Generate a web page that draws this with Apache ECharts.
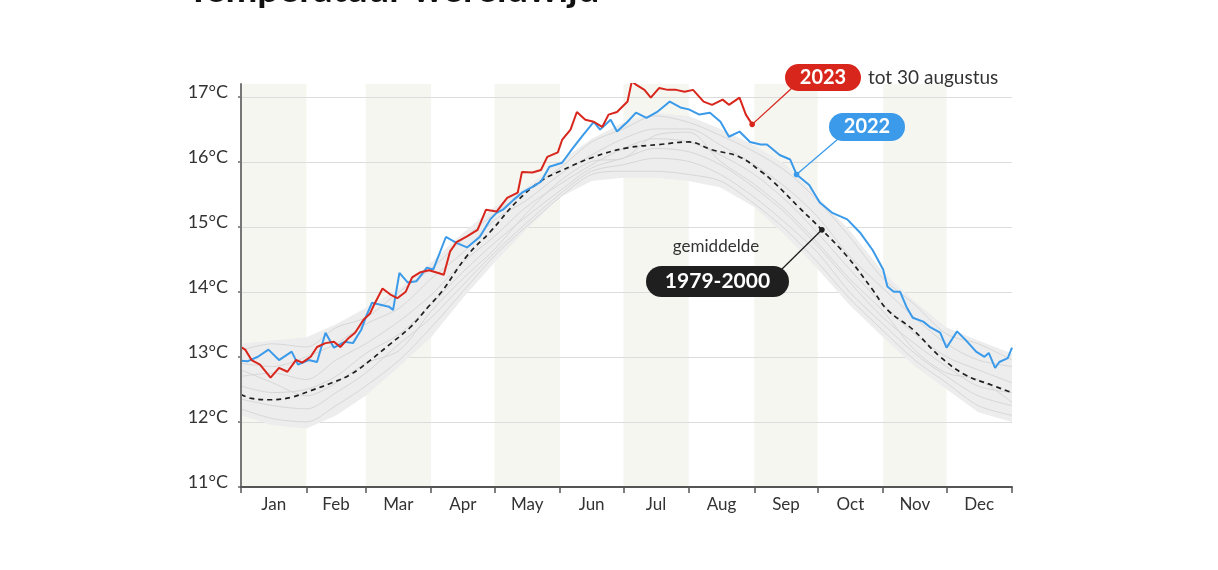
<!DOCTYPE html>
<html>
<head>
<meta charset="utf-8">
<script src="https://cdn.jsdelivr.net/npm/echarts@6/dist/echarts.min.js"></script>
<style>
  html, body { margin: 0; padding: 0; background: #fff; }
  #chart { width: 1218px; height: 570px; }
</style>
</head>
<body>
<div id="chart"></div>
<script>
// maanden (dag van het jaar)
const monthNames = ['Jan', 'Feb', 'Mar', 'Apr', 'May', 'Jun', 'Jul', 'Aug', 'Sep', 'Oct', 'Nov', 'Dec'];
const monthStarts = [0, 31, 59, 90, 120, 151, 181, 212, 243, 273, 304, 334, 365];
const monthMids = [15.5, 45, 74.5, 105, 135.5, 166, 196.5, 227.5, 258, 288.5, 319, 349.5];
const yTicks = [11, 12, 13, 14, 15, 16, 17];

// 2023 tot 30 augustus
const data2023 = [
  [0, 13.15], [2, 13.11], [5, 12.95], [9, 12.88], [14, 12.68], [18, 12.83], [22, 12.77],
  [26, 12.95], [29, 12.91], [33, 13.00], [36, 13.15], [40, 13.21], [44, 13.23], [47, 13.15],
  [51, 13.29], [54, 13.37], [58, 13.57], [61, 13.66], [63, 13.80], [67, 14.05], [71, 13.95],
  [74, 13.90], [78, 14.00], [81, 14.22], [85, 14.30], [89, 14.33], [93, 14.29], [96, 14.26],
  [99, 14.62], [102, 14.76], [107, 14.85], [112, 14.95], [116, 15.26], [121, 15.23],
  [126, 15.44], [131, 15.52], [133, 15.84], [138, 15.83], [142, 15.87], [145, 16.07],
  [150, 16.14], [152, 16.33], [156, 16.49], [159, 16.76], [163, 16.64], [167, 16.61],
  [171, 16.53], [174, 16.72], [178, 16.76], [183, 16.92], [185, 17.23], [187, 17.18],
  [191, 17.10], [194, 16.98], [198, 17.13], [202, 17.10], [206, 17.10], [210, 17.07],
  [214, 17.10], [219, 16.92], [223, 16.87], [228, 16.95], [231, 16.87], [236, 16.98],
  [239, 16.72], [242, 16.57]
];

// 2022
const data2022 = [
  [0, 12.94], [3, 12.93], [8, 13.00], [13, 13.11], [18, 12.95], [24, 13.08], [27, 12.88],
  [32, 12.95], [36, 12.92], [40, 13.37], [44, 13.14], [49, 13.23], [53, 13.21], [57, 13.42],
  [59, 13.60], [62, 13.83], [66, 13.80], [70, 13.77], [72, 13.72], [75, 14.29], [79, 14.14],
  [83, 14.16], [88, 14.37], [91, 14.34], [97, 14.84], [102, 14.75], [107, 14.68], [113, 14.84],
  [118, 15.11], [121, 15.21], [124, 15.26], [129, 15.41], [133, 15.52], [138, 15.61],
  [142, 15.69], [146, 15.92], [152, 15.98], [157, 16.20], [162, 16.41], [167, 16.61],
  [170, 16.49], [175, 16.64], [178, 16.46], [183, 16.61], [187, 16.75], [192, 16.67],
  [197, 16.76], [203, 16.92], [208, 16.83], [212, 16.80], [217, 16.72], [222, 16.75],
  [227, 16.61], [231, 16.38], [236, 16.46], [241, 16.30], [246, 16.26], [249, 16.26],
  [255, 16.10], [260, 16.03], [263, 15.80], [269, 15.64], [274, 15.37], [280, 15.21],
  [287, 15.11], [293, 14.91], [299, 14.64], [304, 14.34], [306, 14.08], [309, 14.00],
  [312, 14.00], [315, 13.77], [318, 13.60], [323, 13.54], [326, 13.46], [331, 13.37],
  [334, 13.14], [339, 13.39], [343, 13.26], [348, 13.08], [352, 13.00], [354, 13.06],
  [357, 12.83], [359, 12.92], [363, 12.98], [365, 13.14]
];

// gemiddelde 1979-2000
const dataAvg = [
  [0, 12.42], [5, 12.36], [14, 12.34], [24, 12.38], [33, 12.48], [43, 12.60], [52, 12.73],
  [61, 12.94], [70, 13.18], [80, 13.45], [89, 13.78], [95, 14.00], [107, 14.55], [118, 14.92],
  [131, 15.40], [142, 15.70], [151, 15.85], [167, 16.07], [183, 16.21],
  [198, 16.26], [212, 16.30], [223, 16.18], [236, 16.07], [246, 15.85], [252, 15.69],
  [264, 15.30], [275, 14.95], [287, 14.54], [299, 14.03], [306, 13.72], [318, 13.42],
  [331, 13.00], [343, 12.72], [355, 12.57], [365, 12.45]
];

// grijze jaren (1979-2021), een selectie
const grayDays = [0, 15, 31, 45, 59, 75, 90, 105, 120, 135, 151, 166, 181, 196, 212, 227, 243, 258, 273, 288, 304, 319, 334, 349, 365];
const grayTop = [13.2, 13.25, 13.3, 13.5, 13.75, 14.05, 14.45, 14.9, 15.3, 15.6, 16.0, 16.35, 16.6, 16.75, 16.7, 16.5, 16.25, 15.95, 15.45, 14.95, 14.3, 13.85, 13.45, 13.25, 13.05];
const grayBottom = [12.1, 11.95, 11.9, 12.1, 12.4, 12.85, 13.3, 13.9, 14.45, 14.95, 15.45, 15.7, 15.75, 15.75, 15.7, 15.6, 15.3, 14.85, 14.35, 13.8, 13.3, 12.85, 12.5, 12.15, 12.0];
const grayLines = [
  [13.10, 13.20, 13.15, 13.45, 13.60, 14.00, 14.35, 14.80, 15.20, 15.55, 15.90, 16.30, 16.50, 16.70, 16.60, 16.40, 16.15, 15.85, 15.40, 14.85, 14.20, 13.80, 13.35, 13.20, 12.95],
  [12.90, 12.85, 13.00, 13.20, 13.50, 13.75, 14.20, 14.60, 15.10, 15.40, 15.80, 16.10, 16.35, 16.50, 16.50, 16.25, 15.95, 15.60, 15.15, 14.55, 14.05, 13.60, 13.20, 12.95, 12.85],
  [12.70, 12.75, 12.65, 12.95, 13.20, 13.55, 13.95, 14.45, 14.85, 15.30, 15.65, 15.95, 16.20, 16.35, 16.30, 16.10, 15.80, 15.40, 14.90, 14.35, 13.80, 13.35, 13.00, 12.80, 12.60],
  [12.55, 12.45, 12.50, 12.70, 13.05, 13.35, 13.80, 14.30, 14.75, 15.15, 15.55, 15.90, 16.05, 16.20, 16.15, 15.95, 15.60, 15.20, 14.70, 14.15, 13.60, 13.20, 12.85, 12.55, 12.45],
  [12.35, 12.25, 12.20, 12.45, 12.75, 13.20, 13.60, 14.10, 14.60, 15.05, 15.50, 15.85, 15.95, 16.05, 16.00, 15.80, 15.45, 15.05, 14.60, 14.00, 13.50, 13.05, 12.70, 12.40, 12.25],
  [12.20, 12.05, 12.00, 12.25, 12.55, 12.95, 13.45, 14.00, 14.55, 15.00, 15.45, 15.80, 15.85, 15.85, 15.80, 15.70, 15.35, 14.95, 14.45, 13.90, 13.40, 12.95, 12.60, 12.25, 12.10],
  [12.80, 12.60, 12.40, 12.60, 12.90, 13.10, 13.70, 14.20, 14.65, 15.20, 15.70, 16.00, 16.05, 16.40, 16.45, 16.00, 15.65, 15.25, 14.75, 14.20, 13.70, 13.10, 12.75, 12.65, 12.30]
];

const FONT = 'Lato';
const RED = '#d8261c';
const BLUE = '#3b9ae9';
const DARK = '#1f1f1f';
const Y_MIN = 11;
const Y_TOP = 17.19;

const chart = echarts.init(document.getElementById('chart'));

function zip(xs, ys) {
  return xs.map((x, i) => [x, ys[i]]);
}

// gestreepte maanden: jan, mrt, mei, jul, sep, nov
const bandRanges = [];
for (let m = 0; m < 12; m += 2) {
  bandRanges.push([monthStarts[m], monthStarts[m + 1]]);
}

const series = [
  {
    type: 'custom',
    xAxisIndex: 0,
    yAxisIndex: 0,
    data: bandRanges,
    silent: true,
    z: 0,
    renderItem: (params, api) => {
      const p0 = api.coord([api.value(0), Y_TOP]);
      const p1 = api.coord([api.value(1), Y_MIN]);
      return {
        type: 'rect',
        shape: { x: p0[0], y: p0[1], width: p1[0] - p0[0], height: p1[1] - p0[1] },
        style: { fill: '#f6f6f1' }
      };
    }
  },
  {
    // omhullende van de grijze jaren
    type: 'custom',
    xAxisIndex: 0,
    yAxisIndex: 0,
    data: grayDays.map((d, i) => [d, grayBottom[i], grayTop[i]]),
    silent: true,
    z: 2,
    renderItem: (params, api) => {
      if (params.dataIndex !== 0) return null;
      const pts = [];
      grayDays.forEach((d, i) => pts.push(api.coord([d, grayTop[i]])));
      for (let i = grayDays.length - 1; i >= 0; i--) {
        pts.push(api.coord([grayDays[i], grayBottom[i]]));
      }
      return {
        type: 'polygon',
        shape: { points: pts },
        style: { fill: '#ededed' }
      };
    }
  }
];

grayLines.forEach(vals => {
  series.push({
    type: 'line',
    xAxisIndex: 0,
    yAxisIndex: 0,
    data: zip(grayDays, vals),
    smooth: 0.3,
    showSymbol: false,
    lineStyle: { color: '#d7d7d7', width: 1 },
    silent: true,
    z: 3
  });
});

series.push({
  type: 'line',
  xAxisIndex: 0,
  yAxisIndex: 0,
  data: dataAvg,
  smooth: 0.4,
  showSymbol: false,
  lineStyle: { color: DARK, width: 1.7, type: [5, 4] },
  z: 4
});
series.push({
  type: 'line',
  xAxisIndex: 0,
  yAxisIndex: 0,
  data: data2022,
  showSymbol: false,
  lineStyle: { color: BLUE, width: 2 },
  z: 5
});
series.push({
  type: 'line',
  xAxisIndex: 0,
  yAxisIndex: 0,
  data: data2023,
  showSymbol: false,
  lineStyle: { color: RED, width: 2 },
  z: 6
});

chart.setOption({
  animation: false,
  textStyle: { fontFamily: FONT },
  grid: [
    { left: 241, right: 206, top: 84, bottom: 83 },
    { left: 241, right: 206, top: 97, bottom: 83 }
  ],
  xAxis: [
    {
      type: 'value',
      gridIndex: 0,
      min: 0,
      max: 365,
      splitLine: { show: false },
      axisLine: { show: true, lineStyle: { color: '#555', width: 2 } },
      axisTick: {
        show: true,
        customValues: monthStarts,
        length: 6,
        lineStyle: { color: '#555', width: 1.5 }
      },
      axisLabel: {
        customValues: monthMids,
        margin: 9,
        color: '#333',
        fontSize: 17,
        fontFamily: FONT,
        formatter: v => monthNames[monthMids.indexOf(v)] || ''
      },
      z: 7
    },
    {
      type: 'value',
      gridIndex: 1,
      min: 0,
      max: 365,
      show: false
    }
  ],
  yAxis: [
    {
      type: 'value',
      gridIndex: 0,
      min: Y_MIN,
      max: Y_TOP,
      axisLine: { show: true, lineStyle: { color: '#777', width: 2 } },
      axisTick: { show: false },
      axisLabel: { show: false },
      splitLine: { show: false },
      z: 7
    },
    {
      type: 'value',
      gridIndex: 1,
      min: 11,
      max: 17,
      interval: 1,
      axisLine: { show: false },
      axisTick: { show: true, length: 3, lineStyle: { color: '#666', width: 1.5 } },
      axisLabel: {
        margin: 13,
        color: '#333',
        fontSize: 18,
        fontFamily: FONT,
        verticalAlign: 'bottom',
        lineHeight: 10,
        formatter: v => (yTicks.indexOf(v) >= 0 ? v + '°C' : '')
      },
      splitLine: { show: true, lineStyle: { color: '#dcdcdc', width: 1 } },
      z: 1
    }
  ],
  series: series
});

// annotaties, verbonden met punten op de lijnen
function pt(p) {
  return chart.convertToPixel({ xAxisIndex: 0, yAxisIndex: 0 }, p);
}
const p23 = pt(data2023[data2023.length - 1]);
const p22 = pt([263, 15.80]);
const pAvg = pt([275, 14.95]);

function pill(x, y, w, h, color, text, size) {
  return [
    { type: 'rect', shape: { x: x, y: y, width: w, height: h, r: h / 2 }, style: { fill: color }, z: 20 },
    {
      type: 'text', x: x + w / 2, y: y + h / 2, z: 21,
      style: { text: text, fill: '#fff', font: 'bold ' + size + 'px ' + FONT, align: 'center', verticalAlign: 'middle' }
    }
  ];
}

const graphic = [
  {
    type: 'text', left: 187, top: -29,
    style: { text: 'Temperatuur wereldwijd', fill: '#111', font: 'bold 38px ' + FONT }
  },
  { type: 'line', shape: { x1: 792, y1: 88, x2: p23[0], y2: p23[1] }, style: { stroke: RED, lineWidth: 1.3 }, z: 19 },
  { type: 'circle', shape: { cx: p23[0], cy: p23[1], r: 2.8 }, style: { fill: RED }, z: 19 },
  { type: 'line', shape: { x1: 838, y1: 139, x2: p22[0], y2: p22[1] }, style: { stroke: BLUE, lineWidth: 1.3 }, z: 19 },
  { type: 'circle', shape: { cx: p22[0], cy: p22[1], r: 2.8 }, style: { fill: BLUE }, z: 19 },
  { type: 'line', shape: { x1: 781, y1: 270, x2: pAvg[0], y2: pAvg[1] }, style: { stroke: DARK, lineWidth: 1.3 }, z: 19 },
  { type: 'circle', shape: { cx: pAvg[0], cy: pAvg[1], r: 2.8 }, style: { fill: DARK }, z: 19 },
  {
    type: 'text', x: 868, y: 78, z: 21,
    style: { text: 'tot 30 augustus', fill: '#333', font: '19px ' + FONT, verticalAlign: 'middle' }
  },
  {
    type: 'text', x: 716, y: 247, z: 21,
    style: { text: 'gemiddelde', fill: '#333', font: '17px ' + FONT, align: 'center', verticalAlign: 'middle' }
  }
].concat(
  pill(785, 64, 76, 27, RED, '2023', 20),
  pill(829, 113, 76, 28, BLUE, '2022', 20),
  pill(646, 266, 143, 31, DARK, '1979-2000', 21)
);

chart.setOption({ graphic: graphic });
</script>
</body>
</html>
